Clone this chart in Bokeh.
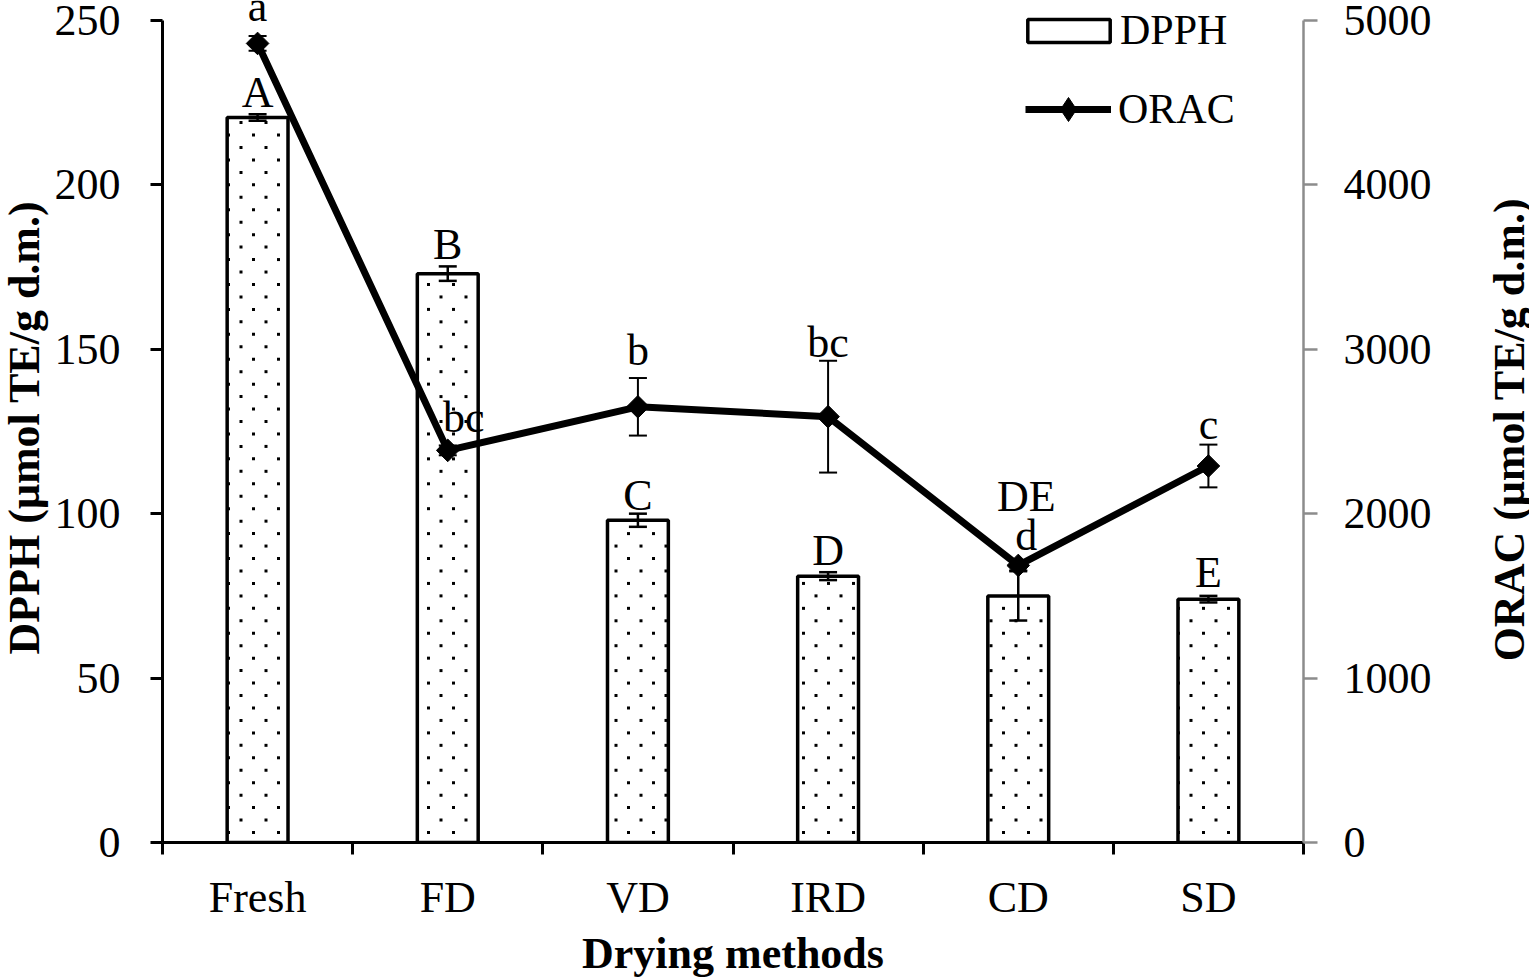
import math
import numpy as np
from bokeh.plotting import figure
from bokeh.layouts import row
from bokeh.models import (Range1d, LinearAxis, FixedTicker, CustomJSTickFormatter, ColumnDataSource,
                          Whisker, TeeHead, LabelSet, Label, Legend, LegendItem)
from bokeh.core.properties import value
from bokeh.embed import file_html
from bokeh.resources import INLINE

# ---------------- data ----------------
categories = ["Fresh", "FD", "VD", "IRD", "CD", "SD"]
dpph = [220.5, 173.0, 98.0, 81.0, 75.0, 74.0]
dpph_err = [1.0, 2.2, 2.0, 1.2, 7.5, 1.0]
dpph_letters = ["A", "B", "C", "D", "DE", "E"]
orac = [4860, 2385, 2650, 2590, 1685, 2290]
orac_err = [45, 30, 175, 340, 30, 130]
orac_letters = ["a", "bc", "b", "bc", "d", "c"]
left_ticks = [0, 50, 100, 150, 200, 250]
right_ticks = [0, 1000, 2000, 3000, 4000, 5000]
left_max, right_max = 250, 5000
x_title = "Drying methods"
left_title = "DPPH (μmol TE/g d.m.)"
right_title = "ORAC (μmol TE/g d.m.)"

# label placement (screen px)
dpph_label_dy = [7, 7, 4, 7, 60, 9]
dpph_label_dx = [0, 0, 0, 0, 8, 0]
orac_label_dy = [15, 13, 13, 4, 11, 6]
orac_label_dx = [0, 16, 0, 0, 8, 0]

FONT = "Liberation Serif"
H = 980
SIDE_L, SIDE_R = 50, 44          # side strips that hold the rotated axis titles
W = 1529 - SIDE_L - SIDE_R
ML, MR, MT, MB = 162 - SIDE_L, 182, 0, 135
FRAME_W = W - ML - MR
FRAME_H = H - MT - MB
AXIS_H = 825                     # pixel length of the 0..250 axis
head = FRAME_H / AXIS_H          # room above the top tick for letters / legend
BAR_W = 0.32

n = len(categories)
xs = [i + 0.5 for i in range(n)]
src = ColumnDataSource(dict(
    x=xs, dpph=dpph,
    dlo=[v - e for v, e in zip(dpph, dpph_err)],
    dhi=[v + e for v, e in zip(dpph, dpph_err)],
    dl=dpph_letters, ddy=dpph_label_dy, ddx=dpph_label_dx,
    orac=orac,
    olo=[v - e for v, e in zip(orac, orac_err)],
    ohi=[v + e for v, e in zip(orac, orac_err)],
    ol=orac_letters, ody=orac_label_dy, odx=orac_label_dx,
))

# staggered small-dot fill texture inside each bar (derived from the bar data)
px_x = FRAME_W / n
px_y = AXIS_H / left_max
dot_x, dot_y = [], []
for xc, top in zip(xs, dpph):
    lpx = (xc - BAR_W / 2) * px_x
    rpx = (xc + BAR_W / 2) * px_x
    tpx = top * px_y
    k = 0
    while 10 + k * 12.5 < tpx - 3:
        ypx = 10 + k * 12.5
        off = 66.0 if k % 2 == 0 else 78.5
        m = math.ceil((lpx - off) / 25.0)
        while off + m * 25.0 <= rpx:
            dot_x.append((off + m * 25.0) / px_x)
            dot_y.append(ypx / px_y)
            m += 1
        k += 1

p = figure(width=W, height=H, output_backend="svg", toolbar_location=None,
           x_range=Range1d(0, n), y_range=Range1d(0, left_max * head),
           min_border_left=ML, min_border_right=MR, min_border_top=MT, min_border_bottom=MB)
p.extra_y_ranges = {"orac": Range1d(0, right_max * head)}
p.xgrid.visible = False
p.ygrid.visible = False
p.outline_line_color = None
p.background_fill_color = "white"
p.border_fill_color = "white"

# x axis
xa = p.xaxis[0]
xa.ticker = FixedTicker(ticks=xs, minor_ticks=list(range(n + 1)))
xa.formatter = CustomJSTickFormatter(args=dict(cats=categories), code="return cats[Math.floor(tick)];")
xa.axis_line_width = 3
xa.axis_line_color = "black"
xa.major_tick_out = 0
xa.major_tick_in = 0
xa.minor_tick_out = 12
xa.minor_tick_in = 0
xa.minor_tick_line_width = 3
xa.minor_tick_line_color = "black"
xa.major_label_text_font = FONT
xa.major_label_text_font_size = "44px"
xa.major_label_text_color = "black"
xa.major_label_standoff = 18
xa.axis_label = x_title
xa.axis_label_text_font = FONT
xa.axis_label_text_font_style = "bold"
xa.axis_label_text_font_size = "44px"
xa.axis_label_text_color = "black"
xa.axis_label_standoff = 4

# left axis
ya = p.yaxis[0]
ya.bounds = (0, left_max)
ya.ticker = FixedTicker(ticks=left_ticks, minor_ticks=[])
ya.axis_line_width = 3
ya.axis_line_color = "black"
ya.major_tick_out = 12
ya.major_tick_in = 0
ya.major_tick_line_width = 3
ya.major_tick_line_color = "black"
ya.minor_tick_line_color = None
ya.major_label_text_font = FONT
ya.major_label_text_font_size = "44px"
ya.major_label_text_color = "black"
ya.major_label_standoff = 30

# right axis
ra = LinearAxis(y_range_name="orac", ticker=FixedTicker(ticks=right_ticks, minor_ticks=[]))
ra.bounds = (0, right_max)
ra.axis_line_width = 2.5
ra.axis_line_color = "#8c8c8c"
ra.major_tick_out = 14
ra.major_tick_in = 0
ra.major_tick_line_width = 2.5
ra.major_tick_line_color = "#8c8c8c"
ra.minor_tick_line_color = None
ra.major_label_text_font = FONT
ra.major_label_text_font_size = "44px"
ra.major_label_text_color = "black"
ra.major_label_standoff = 26
p.add_layout(ra, "right")

# bars: white fill, dot texture, then outline
bars_fill = p.vbar(x="x", top="dpph", width=BAR_W, source=src, fill_color="white", line_color=None)
p.scatter(x=dot_x, y=dot_y, marker="square", size=3, fill_color="black", line_color=None)
bars_line = p.vbar(x="x", top="dpph", width=BAR_W, source=src, fill_color=None,
                   line_color="black", line_width=3.5)

# DPPH error bars
dw = Whisker(source=src, base="x", lower="dlo", upper="dhi", line_width=2.5, line_color="black",
             upper_head=TeeHead(size=18, line_width=2.5, line_color="black"),
             lower_head=TeeHead(size=18, line_width=2.5, line_color="black"), level="glyph")
p.add_layout(dw)

# ORAC error bars
ow = Whisker(source=src, base="x", lower="olo", upper="ohi", y_range_name="orac",
             line_width=2, line_color="black",
             upper_head=TeeHead(size=18, line_width=2, line_color="black"),
             lower_head=TeeHead(size=18, line_width=2, line_color="black"), level="glyph")
p.add_layout(ow)

# ORAC line + diamonds
ln = p.line(x="x", y="orac", source=src, y_range_name="orac", line_width=7, line_color="black")
leg_dia = p.scatter(x="x", y="orac", source=src, y_range_name="orac", marker="diamond",
                    size=20, fill_color="black", line_color="black")
pts = p.scatter(x="x", y="orac", source=src, y_range_name="orac", marker="square",
                angle=np.pi / 4, size=16, fill_color="black", line_color="black")

# letters
p.add_layout(LabelSet(x="x", y="dhi", text="dl", source=src, x_offset="ddx", y_offset="ddy",
                      text_align="center", text_baseline="alphabetic",
                      text_font=value(FONT), text_font_size=value("44px"), text_color="black"))
p.add_layout(LabelSet(x="x", y="ohi", text="ol", source=src, y_range_name="orac",
                      x_offset="odx", y_offset="ody",
                      text_align="center", text_baseline="alphabetic",
                      text_font=value(FONT), text_font_size=value("44px"), text_color="black"))

# legends (two, so each can have its own glyph size)
common = dict(orientation="vertical", padding=0, margin=0,
              border_line_alpha=0, background_fill_alpha=0, label_text_font=FONT,
              label_text_font_size="42px", label_text_color="black", label_height=22)
leg1 = Legend(items=[LegendItem(label="DPPH", renderers=[bars_fill, bars_line])],
              location=(855, 788), glyph_width=103, glyph_height=29, label_standoff=0, **common)
leg2 = Legend(items=[LegendItem(label="ORAC", renderers=[ln, leg_dia])],
              location=(863, 703), glyph_width=86, glyph_height=60, label_standoff=7, **common)
p.add_layout(leg1)
p.add_layout(leg2)

FRAME_BOTTOM = H - MB   # the side strips' frames are aligned with the main frame


def title_strip(width, text, cx, cy):
    f = figure(width=width, height=H, output_backend="svg", toolbar_location=None,
               x_range=Range1d(0, 1), y_range=Range1d(0, 1),
               x_axis_location=None, y_axis_location=None,
               min_border_left=0, min_border_right=0, min_border_top=0, min_border_bottom=0)
    f.grid.visible = False
    f.outline_line_color = None
    f.background_fill_color = "white"
    f.border_fill_color = "white"
    f.add_layout(Label(x=cx, y=FRAME_BOTTOM - cy, x_units="screen", y_units="screen", text=text,
                       angle=np.pi / 2, text_align="center", text_baseline="middle",
                       text_font=FONT, text_font_style="bold", text_font_size="44px",
                       text_color="black"))
    return f


pl = title_strip(SIDE_L, left_title, 24, 430)
pr = title_strip(SIDE_R, right_title, 24, 432)

layout = row(pl, p, pr, spacing=0)
open("out.html", "w").write(file_html(layout, INLINE))
